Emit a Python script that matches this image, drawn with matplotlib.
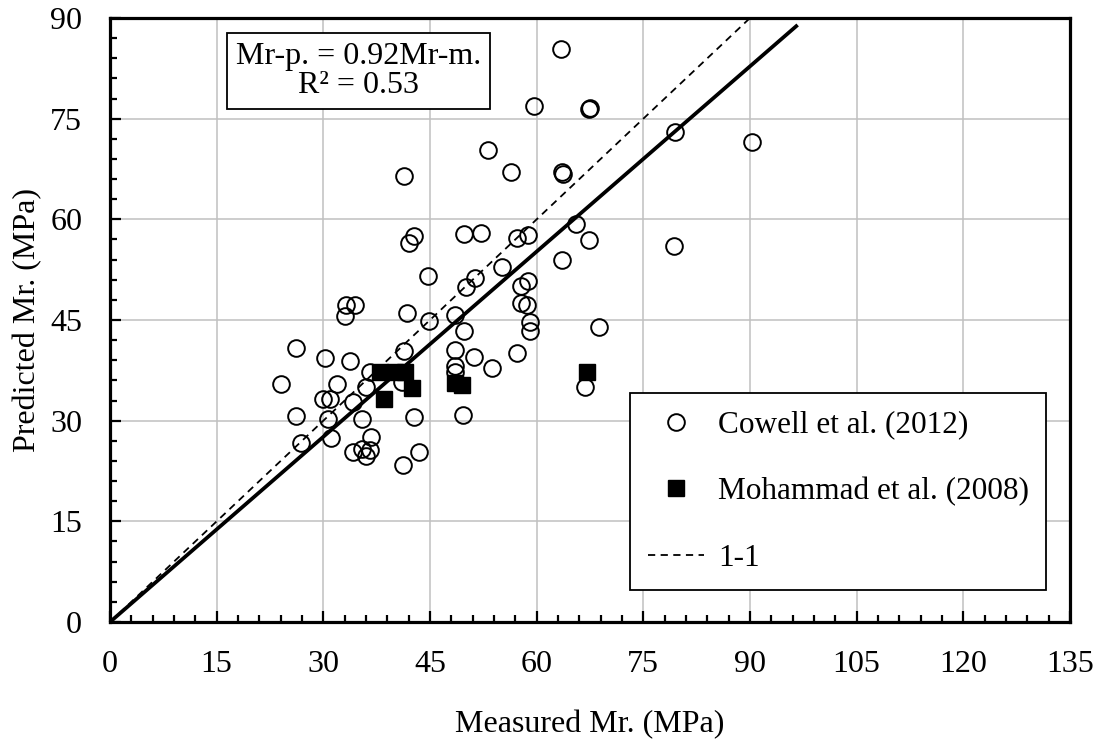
import numpy as np
import matplotlib.pyplot as plt
from matplotlib.ticker import MultipleLocator

plt.rcParams['font.family'] = ['Liberation Serif', 'DejaVu Serif']

# Cowell et al. (2012): measured vs predicted Mr (MPa)
cowell_meas = [63.4, 59.6, 67.4, 67.5, 79.4, 90.3, 53.1, 41.3, 56.4, 63.6, 63.7,
               49.8, 52.2, 57.2, 58.8, 65.5, 67.4, 79.3, 42.8, 42.1,
               63.6, 55.1, 51.3, 50.0, 58.8, 57.8, 44.7,
               57.8, 58.6, 33.2, 34.5, 33.0, 41.7, 48.5, 44.8, 59.0, 59.0, 49.8, 68.8,
               48.5, 51.2, 57.2, 53.7, 26.2, 30.2, 33.7, 41.3, 48.5, 36.5, 48.5,
               24.0, 31.9, 36.0, 41.1, 66.8,
               29.9, 31.0, 34.2,
               26.2, 30.7, 35.5, 42.7, 49.6,
               26.8, 31.1, 36.7,
               34.2, 35.5, 36.6, 36.0, 43.4, 41.2]
cowell_pred = [85.4, 76.9, 76.4, 76.6, 73.0, 71.5, 70.4, 66.5, 67.0, 67.0, 66.8,
               57.8, 58.0, 57.2, 57.7, 59.3, 56.9, 56.1, 57.5, 56.4,
               53.9, 52.9, 51.2, 49.9, 50.8, 50.0, 51.6,
               47.6, 47.2, 47.2, 47.2, 45.6, 46.0, 45.7, 44.9, 44.7, 43.3, 43.3, 44.0,
               40.5, 39.5, 40.1, 37.8, 40.8, 39.4, 38.9, 40.4, 38.1, 37.3, 37.3,
               35.4, 35.4, 35.0, 35.8, 35.0,
               33.2, 33.3, 32.8,
               30.7, 30.3, 30.2, 30.5, 30.8,
               26.6, 27.4, 27.6,
               25.4, 25.8, 25.7, 24.8, 25.4, 23.4]

# Mohammad et al. (2008)
moh_meas = [37.9, 40.1, 41.5, 38.5, 42.5, 48.5, 49.5, 67.1]
moh_pred = [37.3, 37.3, 37.3, 33.2, 34.9, 35.6, 35.3, 37.3]

fit_slope = 0.92
fit_x = [0, 96.5]
one_to_one = [0, 90]

fs = 23

fig = plt.figure(figsize=(10.98, 7.40), dpi=100)
ax = fig.add_axes([110 / 1098, 118 / 740, 960 / 1098, 604 / 740])

ax.plot(fit_x, [fit_slope * v for v in fit_x], color='black', lw=2.7, zorder=3)
ax.plot(one_to_one, one_to_one, color='black', lw=1.3, ls=(0, (4, 3)), zorder=3, label='1-1')
ax.plot(cowell_meas, cowell_pred, 'o', ms=12, mfc='none', mec='black', mew=1.4,
        zorder=4, label='Cowell et al. (2012)')
ax.plot(moh_meas, moh_pred, 's', ms=12, mfc='black', mec='black',
        zorder=5, label='Mohammad et al. (2008)')

ax.set_xlim(0, 135)
ax.set_ylim(0, 90)
ax.xaxis.set_major_locator(MultipleLocator(15))
ax.yaxis.set_major_locator(MultipleLocator(15))
ax.xaxis.set_minor_locator(MultipleLocator(3))
ax.yaxis.set_minor_locator(MultipleLocator(3))
ax.grid(True, which='major', color='#c0c0c0', lw=1.1)
ax.set_axisbelow(True)
ax.tick_params(which='both', direction='in', top=False, right=False, labelsize=fs, width=1.6, pad=20)
ax.tick_params(which='major', length=8)
ax.tick_params(which='minor', length=5)
for s in ax.spines.values():
    s.set_linewidth(2.3)

ax.set_xlabel('Measured Mr. (MPa)', fontsize=fs)
ax.set_ylabel('Predicted Mr. (MPa)', fontsize=fs)
ax.xaxis.set_label_coords(0.5, -0.145)
ax.yaxis.set_label_coords(-0.071, 0.5)

ax.text(0.259, 0.912, 'Mr-p. = 0.92Mr-m.\nR² = 0.53', transform=ax.transAxes,
        ha='center', va='center', fontsize=fs, linespacing=1.0,
        bbox=dict(boxstyle='square,pad=0.28', fc='white', ec='black', lw=1.3))

h, l = ax.get_legend_handles_labels()
order = [1, 2, 0]
leg = ax.legend([h[i] for i in order], [l[i] for i in order], loc='lower left',
                bbox_to_anchor=(0.542, 0.053), fontsize=22.5, frameon=True, fancybox=False,
                edgecolor='black', framealpha=1, labelspacing=1.2, handlelength=1.8,
                handletextpad=0.45, borderpad=0.55, borderaxespad=0)
leg.get_frame().set_linewidth(1.3)

fig.savefig('out.png', dpi=100)
